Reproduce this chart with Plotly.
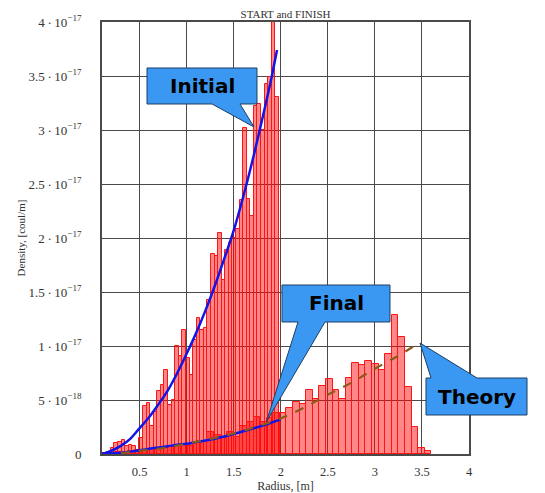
import plotly.graph_objects as go

UNIT = 1e-18  # density values below are in units of 1e-18 coul/m

# Initial (start) histogram: 50 bins
INIT_START = 0.08
INIT_WIDTH = 0.038
INIT_DENSITY = [0.05, 0.1, 0.2, 0.6, 1.0, 1.1, 1.3, 0.75, 0.8, 0.7,
                0.4, 1.5, 4.4, 4.75, 2.6, 3.9, 5.8, 6.4, 7.8, 4.5,
                5.0, 10.0, 9.1, 11.5, 8.9, 7.3, 10.6, 12.6, 11.5, 11.7,
                14.3, 18.5, 18.3, 20.5, 16.1, 18.9, 19.5, 20.0, 20.8, 23.5,
                30.2, 23.6, 22.0, 32.2, 32.4, 30.0, 34.3, 34.9, 40.5, 33.1]

# Final histogram: 50 bins
FINAL_START = 0.1
FINAL_WIDTH = 0.07
FINAL_DENSITY = [0.05, 0.1, 0.15, 0.2, 0.3, 0.35, 0.4, 0.5, 0.45, 0.6,
                 0.7, 0.75, 0.8, 0.7, 1.1, 1.2, 2.0, 1.8, 1.5, 2.0,
                 1.6, 2.6, 3.0, 3.4, 3.0, 3.3, 3.8, 3.8, 4.3, 4.8,
                 4.6, 5.9, 5.1, 6.3, 6.9, 5.9, 5.1, 7.0, 8.4, 8.2,
                 8.6, 8.3, 7.8, 9.3, 12.9, 10.8, 6.2, 2.5, 0.6, 0.25]

# Curves
INIT_CURVE_R = [0.1, 0.2, 0.3, 0.4, 0.5, 0.6, 0.7, 0.8, 0.9, 1.0,
                1.1, 1.2, 1.3, 1.4, 1.5, 1.6, 1.7, 1.8, 1.9, 1.96]
INIT_CURVE_D = [0.0, 0.3, 0.75, 1.4, 2.4, 3.4, 4.6, 5.9, 7.5, 9.3,
                11.2, 13.3, 15.6, 18.1, 20.7, 23.8, 27.2, 30.9, 34.8, 37.4]

FINAL_CURVE_R = [0.1, 0.2, 0.3, 0.4, 0.5, 0.6, 0.7, 0.8, 0.9, 1.0,
                 1.1, 1.2, 1.3, 1.4, 1.5, 1.6, 1.7, 1.8, 1.9, 2.0]
FINAL_CURVE_D = [0.0, 0.05, 0.12, 0.22, 0.35, 0.48, 0.6, 0.72, 0.85, 0.95,
                 1.1, 1.25, 1.42, 1.62, 1.85, 2.1, 2.35, 2.6, 2.9, 3.2]

THEORY_R = [0.3, 0.5, 0.75, 1.0, 1.25, 1.5, 1.75, 2.0, 2.25, 2.5,
            2.75, 3.0, 3.25, 3.47]
THEORY_D = [0.08, 0.3, 0.55, 0.95, 1.4, 1.9, 2.55, 3.3, 4.3, 5.5,
            6.6, 7.9, 9.1, 10.3]

X_TICKS = [0.5, 1, 1.5, 2, 2.5, 3, 3.5, 4]
X_TICK_LABELS = ["0.5", "1", "1.5", "2", "2.5", "3", "3.5", "4"]
Y_TICKS = [0, 5e-18, 1e-17, 1.5e-17, 2e-17, 2.5e-17, 3e-17, 3.5e-17, 4e-17]
Y_TICK_MANT = ["0", "5", "1", "1.5", "2", "2.5", "3", "3.5", "4"]
Y_TICK_EXP = ["", "18", "17", "17", "17", "17", "17", "17", "17"]

CALLOUT_TEXT = ["Initial", "Final", "Theory"]

# ---------------------------------------------------------------
PAGE_OFF = 8                      # default page margin around the figure
W, H = 545 - PAGE_OFF, 493 - PAGE_OFF
# plot-area edges in screen pixels
SL, SR, ST, SB = 102, 469, 22, 454
L, R, T, B = SL - PAGE_OFF, SR - PAGE_OFF, ST - PAGE_OFF, SB - PAGE_OFF


def px(x):
    return (x - SL) / (SR - SL)


def py(y):
    return (SB - y) / (SB - ST)


y_labels = []
for m, e in zip(Y_TICK_MANT, Y_TICK_EXP):
    if e:
        y_labels.append(f"{m}\u2009·\u200910<sup>\u2212{e}</sup>")
    else:
        y_labels.append(m)

init_x = [INIT_START + INIT_WIDTH * (i + 0.5) for i in range(len(INIT_DENSITY))]
final_x = [FINAL_START + FINAL_WIDTH * (i + 0.5) for i in range(len(FINAL_DENSITY))]

bar_fill = "rgba(255,0,0,0.47)"
bar_line = "rgb(255,20,20)"

fig = go.Figure()
fig.add_trace(go.Bar(x=init_x, y=[v * UNIT for v in INIT_DENSITY], width=INIT_WIDTH,
                     marker=dict(color=bar_fill, line=dict(color=bar_line, width=1))))
fig.add_trace(go.Bar(x=final_x, y=[v * UNIT for v in FINAL_DENSITY], width=FINAL_WIDTH,
                     marker=dict(color=bar_fill, line=dict(color=bar_line, width=1))))
fig.add_trace(go.Scatter(x=INIT_CURVE_R, y=[v * UNIT for v in INIT_CURVE_D], mode="lines",
                         line=dict(color="#1414e6", width=2.5, shape="spline")))
fig.add_trace(go.Scatter(x=FINAL_CURVE_R, y=[v * UNIT for v in FINAL_CURVE_D], mode="lines",
                         line=dict(color="#1414e6", width=2.5, shape="spline")))
fig.add_trace(go.Scatter(x=THEORY_R, y=[v * UNIT for v in THEORY_D], mode="lines",
                         line=dict(color="#8a5a1c", width=2.2, dash="dash", shape="spline")))

serif = "Liberation Serif, Times New Roman, serif"
grid = "#4a4a4a"

fig.update_layout(
    width=W, height=H,
    margin=dict(l=L, r=W - R, t=T, b=H - B, autoexpand=False),
    paper_bgcolor="white", plot_bgcolor="white",
    barmode="overlay", bargap=0, showlegend=False,
    title=dict(text="START and FINISH", x=0.5, xref="paper", xanchor="center",
               y=1 - 6.5 / H, yref="container", yanchor="middle",
               font=dict(family=serif, size=11, color="#333333")),
    xaxis=dict(range=[0.1, 4], tickvals=X_TICKS, ticktext=X_TICK_LABELS, automargin=False,
               showgrid=True, gridcolor=grid, gridwidth=1.2, zeroline=False,
               showline=True, mirror=True, linecolor=grid, linewidth=1.6,
               ticks="outside", ticklen=5, tickcolor="rgba(0,0,0,0)",
               tickfont=dict(family=serif, size=12.5, color="#333333"),
               title=dict(text="Radius, [m]", standoff=2,
                          font=dict(family=serif, size=12, color="#333333"))),
    yaxis=dict(range=[0, 4e-17], tickvals=Y_TICKS, ticktext=y_labels, automargin=False,
               showgrid=True, gridcolor=grid, gridwidth=1.2, zeroline=False,
               showline=True, mirror=True, linecolor=grid, linewidth=1.6,
               ticks="outside", ticklen=16, tickcolor="rgba(0,0,0,0)",
               tickfont=dict(family=serif, size=13, color="#333333"),
               title=dict(text="Density, [coul/m]", standoff=1,
                          font=dict(family=serif, size=11, color="#333333"))),
)

# Callout bubbles (screen-pixel layout -> paper coordinates)
callouts = [
    dict(path=[(147, 68), (257, 68), (257, 104), (240, 104), (254, 127), (212, 104), (147, 104)],
         center=(202, 86)),
    dict(path=[(282, 285), (390, 285), (390, 322), (325, 322), (266.5, 421.5), (298, 322), (282, 322)],
         center=(336, 303)),
    dict(path=[(426, 378), (431, 378), (420, 343), (477, 378), (527, 378), (527, 415), (426, 415)],
         center=(476.5, 396.5)),
]
for c, text in zip(callouts, CALLOUT_TEXT):
    pts = c["path"]
    d = "M " + " L ".join(f"{px(x):.5f},{py(y):.5f}" for x, y in pts) + " Z"
    fig.add_shape(type="path", path=d, xref="paper", yref="paper", layer="above",
                  fillcolor="#3a98f2", line=dict(color="#1d3f66", width=1))
    cx, cy = c["center"]
    fig.add_annotation(x=px(cx), y=py(cy), xref="paper", yref="paper", showarrow=False,
                       text=f"<b>{text}</b>", xanchor="center", yanchor="middle",
                       font=dict(family="DejaVu Sans, Verdana, sans-serif", size=20, color="black"))

fig.write_html("out.html")
